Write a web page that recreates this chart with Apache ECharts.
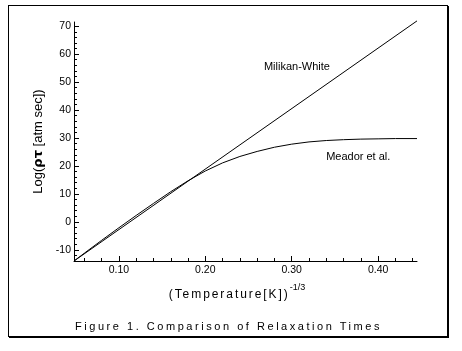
<!DOCTYPE html>
<html>
<head>
<meta charset="utf-8">
<script src="https://cdn.jsdelivr.net/npm/echarts@6/dist/echarts.min.js"></script>
<style>
  body { margin: 0; background: #fff; }
  #frame { position: absolute; left: 8px; top: 5px; width: 438px; height: 330px;
           border: 1px solid #000; box-shadow: 1px 1px 0 #000; }
  #chart { position: absolute; left: 0; top: 0; width: 462px; height: 351px; }
  .txt { position: absolute; font-family: "Liberation Sans", Arial, sans-serif; color: #000;
         white-space: nowrap; line-height: 1; }
  #xname { font-size: 12px; top: 286px; }
  #xname sup { font-size: 9px; letter-spacing: 0; position: relative; top: -3px; }
  #caption { font-size: 11px; top: 321px; left: 75px; }
</style>
</head>
<body>
<div id="frame"></div>
<div id="chart"></div>
<div id="xname" class="txt"><span id="xmain">(Temperature[K])</span><sup>-1/3</sup></div>
<div id="caption" class="txt">Figure 1. Comparison of Relaxation Times</div>
<script>
// Meador et al. curve
const meadorX = [0.048, 0.06, 0.08, 0.10, 0.12, 0.14, 0.16, 0.18, 0.20, 0.22, 0.24, 0.26,
                 0.28, 0.30, 0.32, 0.34, 0.36, 0.38, 0.40, 0.42, 0.445];
const meadorY = [-14, -11.2, -6.6, -2.1, 2.3, 6.6, 10.8, 14.7, 18.2, 21.1, 23.4, 25.2,
                 26.7, 27.8, 28.6, 29.1, 29.4, 29.6, 29.7, 29.8, 29.8];
// Milikan-White straight line
const mwX = [0.048, 0.445];
const mwY = [-14, 71.9];

const xMajorTicks = [0.10, 0.20, 0.30, 0.40];
const xMinorTicks = [0.06, 0.08, 0.12, 0.14, 0.16, 0.18, 0.22, 0.24, 0.26, 0.28,
                     0.32, 0.34, 0.36, 0.38, 0.42, 0.44];
const yMajorTicks = [-10, 0, 10, 20, 30, 40, 50, 60, 70];
const yMinorTicks = [-12, -8, -6, -4, -2, 2, 4, 6, 8, 12, 14, 16, 18, 22, 24, 26, 28,
                     32, 34, 36, 38, 42, 44, 46, 48, 52, 54, 56, 58, 62, 64, 66, 68];

const font = '"Liberation Sans Narrow", "Liberation Sans", Arial, sans-serif';
const xMin = 0.048, xMax = 0.445, yMin = -14, yMax = 71.5;

const chart = echarts.init(document.getElementById('chart'));

function baseAxis(extra) {
    return Object.assign({
        type: 'value',
        splitLine: { show: false },
        axisLine: { onZero: false, lineStyle: { color: '#000', width: 1 } }
    }, extra);
}

const option = {
    animation: false,
    grid: { left: 74, right: 45, top: 22, bottom: 90 },
    xAxis: [
        baseAxis({
            min: xMin, max: xMax, position: 'bottom',
            axisTick: { inside: true, length: 5, customValues: xMajorTicks, lineStyle: { color: '#000' } },
            axisLabel: {
                customValues: xMajorTicks, color: '#000', fontSize: 10.5, fontFamily: font, margin: 4,
                formatter: v => v.toFixed(2)
            }
        }),
        baseAxis({
            min: xMin, max: xMax, position: 'bottom',
            axisLine: { show: false, onZero: false },
            axisTick: { inside: true, length: 3, customValues: xMinorTicks, lineStyle: { color: '#000' } },
            axisLabel: { show: false }
        })
    ],
    yAxis: [
        baseAxis({
            min: yMin, max: yMax, position: 'left',
            axisTick: { inside: true, length: 5, customValues: yMajorTicks, lineStyle: { color: '#000' } },
            axisLabel: { customValues: yMajorTicks, color: '#000', fontSize: 10.5, fontFamily: font, margin: 3 },
            name: '{a|Log(}{b|ρτ}{a| [atm sec])}',
            nameLocation: 'middle',
            nameRotate: 90,
            nameGap: 29,
            nameTextStyle: {
                rich: {
                    a: { fontSize: 13, fontFamily: '"Liberation Sans", Arial, sans-serif', color: '#000' },
                    b: { fontSize: 13, fontWeight: 'bold', fontFamily: '"DejaVu Sans", sans-serif', color: '#000' }
                }
            }
        }),
        baseAxis({
            min: yMin, max: yMax, position: 'left',
            axisLine: { show: false, onZero: false },
            axisTick: { inside: true, length: 3, customValues: yMinorTicks, lineStyle: { color: '#000' } },
            axisLabel: { show: false }
        })
    ],
    series: [
        {
            name: 'Milikan-White',
            type: 'line',
            data: mwX.map((x, i) => [x, mwY[i]]),
            showSymbol: false,
            clip: false,
            lineStyle: { color: '#000', width: 1 },
            markPoint: {
                symbol: 'circle', symbolSize: 1,
                itemStyle: { color: 'rgba(0,0,0,0)' },
                label: { show: true, position: 'inside', formatter: 'Milikan-White',
                         color: '#000', fontSize: 11, fontFamily: '"Liberation Sans", Arial, sans-serif' },
                data: [{ coord: [0.306, 55.4] }]
            }
        },
        {
            name: 'Meador et al.',
            type: 'line',
            data: meadorX.map((x, i) => [x, meadorY[i]]),
            showSymbol: false,
            lineStyle: { color: '#000', width: 1 },
            markPoint: {
                symbol: 'circle', symbolSize: 1,
                itemStyle: { color: 'rgba(0,0,0,0)' },
                label: { show: true, position: 'inside', formatter: 'Meador et al.',
                         color: '#000', fontSize: 11, fontFamily: '"Liberation Sans", Arial, sans-serif' },
                data: [{ coord: [0.377, 23.2] }]
            }
        }
    ]
};
chart.setOption(option);

// spread letters of the two bottom texts to the widths seen in the figure
function spread(el, target) {
    const n = el.textContent.length;
    el.style.letterSpacing = '0px';
    const w = el.getBoundingClientRect().width;
    el.style.letterSpacing = ((target - w) / n) + 'px';
}
spread(document.getElementById('xmain'), 121);
spread(document.getElementById('caption'), 307);
const xname = document.getElementById('xname');
xname.style.left = (237 - xname.getBoundingClientRect().width / 2) + 'px';
</script>
</body>
</html>
